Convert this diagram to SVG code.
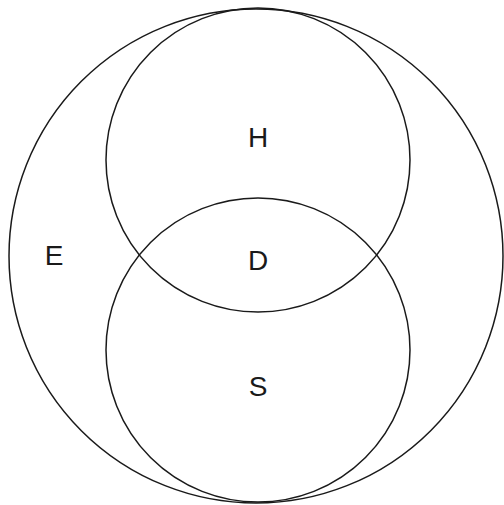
<svg xmlns="http://www.w3.org/2000/svg" width="504" height="505" viewBox="0 0 504 505">
<style>
.c{fill:none;stroke:#1a1a1a;stroke-width:1.5}
.t{font-family:"Liberation Sans",Arial,sans-serif;font-size:28px;fill:#1a1a1a;text-anchor:middle}
</style>
<rect width="504" height="505" fill="#fff"/>
<g id="E"><circle class="c" cx="256" cy="256" r="247"/><text class="t" x="54" y="265">E</text></g>
<g id="H"><circle class="c" cx="258" cy="160" r="152"/><text class="t" x="258" y="147">H</text></g>
<g id="S"><circle class="c" cx="258" cy="350" r="152"/><text class="t" x="258" y="396">S</text></g>
<g id="D"><text class="t" x="258" y="270">D</text></g>
<g id="connectors"/>
</svg>
